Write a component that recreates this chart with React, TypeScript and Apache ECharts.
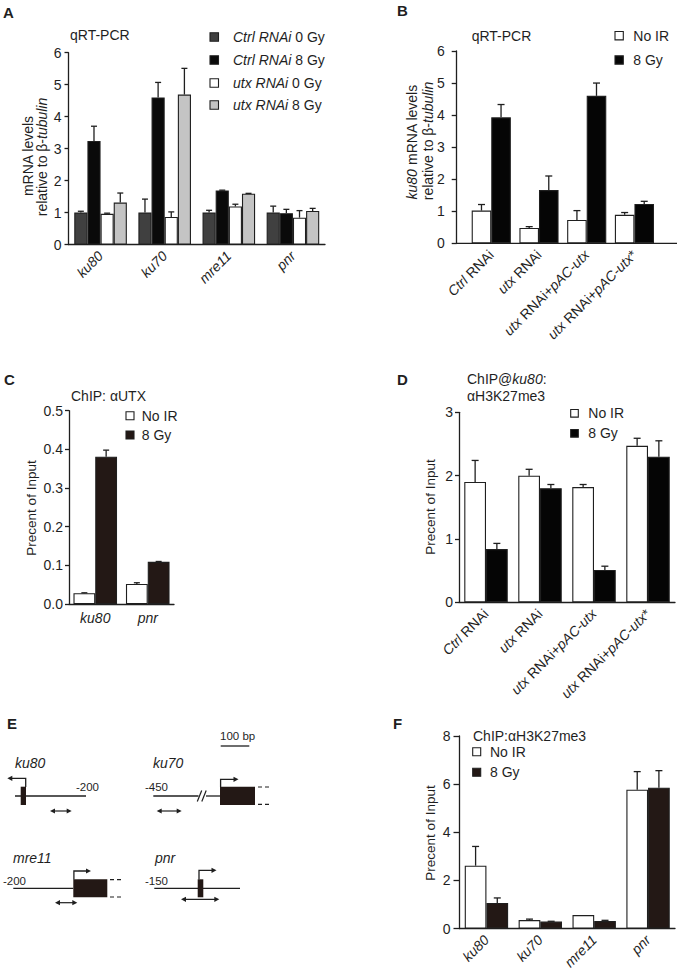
import React, { useEffect, useRef } from 'react';
import * as echarts from 'echarts';

const FONT = '"Liberation Sans", Arial, Helvetica, sans-serif';
const INK = '#1f1f1f';
const BROWN = '#231815';

// ---------- Panel A : qRT-PCR ----------
const aCategories = ['ku80', 'ku70', 'mre11', 'pnr'];
const aNames = ['Ctrl RNAi 0 Gy', 'Ctrl RNAi 8 Gy', 'utx RNAi 0 Gy', 'utx RNAi 8 Gy'];
const aCtrl0 = [1.0, 1.0, 1.0, 1.0];
const aCtrl0Err = [0.04, 0.42, 0.07, 0.2];
const aCtrl8 = [3.24, 4.6, 1.69, 0.98];
const aCtrl8Err = [0.46, 0.47, 0.01, 0.12];
const aUtx0 = [0.96, 0.86, 1.19, 0.84];
const aUtx0Err = [0.02, 0.16, 0.07, 0.22];
const aUtx8 = [1.31, 4.69, 1.59, 1.05];
const aUtx8Err = [0.3, 0.82, 0.01, 0.08];

// ---------- Panel B : ku80 mRNA ----------
const bCategories = ['Ctrl RNAi', 'utx RNAi', 'utx RNAi+pAC-utx', 'utx RNAi+pAC-utx*'];
const bNames = ['No IR', '8 Gy'];
const bNoIR = [1.02, 0.48, 0.73, 0.89];
const bNoIRErr = [0.19, 0.04, 0.29, 0.07];
const b8Gy = [3.93, 1.66, 4.6, 1.23];
const b8GyErr = [0.4, 0.44, 0.4, 0.08];

// ---------- Panel C : ChIP aUTX ----------
const cCategories = ['ku80', 'pnr'];
const cNoIR = [0.028, 0.052];
const cNoIRErr = [0.001, 0.003];
const c8Gy = [0.381, 0.109];
const c8GyErr = [0.017, 0.001];

// ---------- Panel D : ChIP@ku80 H3K27me3 ----------
const dCategories = ['Ctrl RNAi', 'utx RNAi', 'utx RNAi+pAC-utx', 'utx RNAi+pAC-utx*'];
const dNoIR = [1.9, 2.0, 1.82, 2.47];
const dNoIRErr = [0.34, 0.1, 0.04, 0.12];
const d8Gy = [0.84, 1.8, 0.51, 2.3];
const d8GyErr = [0.09, 0.06, 0.06, 0.25];

// ---------- Panel F : ChIP H3K27me3 ----------
const fCategories = ['ku80', 'ku70', 'mre11', 'pnr'];
const fNoIR = [2.61, 0.35, 0.56, 5.77];
const fNoIRErr = [0.8, 0.04, 0, 0.75];
const f8Gy = [1.06, 0.29, 0.31, 5.85];
const f8GyErr = [0.21, 0.01, 0.03, 0.71];

type S = { name: string; values: number[]; errors: number[]; fill: string };
type P = {
  box: { left: number; top: number; right: number; bottom: number };
  axisX?: number;
  axisEnd?: number;
  categories: string[];
  series: S[];
  yMax: number;
  yInterval: number;
  yDecimals: number;
  gap: number;
  cap: number;
  tickLen: number;
  labelMargin: number;
  rotate: number;
  italicAll: boolean;
  xLabelMargin: number;
};

const italicize = (v: string) => v.replace(/(pAC-utx|Ctrl|utx)/g, '{i|$1}');

const panels: P[] = [
  {
    box: { left: 68.5, top: 52.7, right: 325, bottom: 244.5 },
    categories: aCategories,
    series: [
      { name: aNames[0], values: aCtrl0, errors: aCtrl0Err, fill: '#404040' },
      { name: aNames[1], values: aCtrl8, errors: aCtrl8Err, fill: '#0a0a0a' },
      { name: aNames[2], values: aUtx0, errors: aUtx0Err, fill: '#ffffff' },
      { name: aNames[3], values: aUtx8, errors: aUtx8Err, fill: '#c4c4c4' },
    ],
    yMax: 6, yInterval: 1, yDecimals: 0, gap: 0.18, cap: 6, tickLen: 4, labelMargin: 7,
    rotate: 45, italicAll: true, xLabelMargin: 9,
  },
  {
    box: { left: 467.4, top: 51, right: 658.3, bottom: 243.3 },
    axisX: 456.7, axisEnd: 677,
    categories: bCategories,
    series: [
      { name: bNames[0], values: bNoIR, errors: bNoIRErr, fill: '#ffffff' },
      { name: bNames[1], values: b8Gy, errors: b8GyErr, fill: '#050505' },
    ],
    yMax: 6, yInterval: 1, yDecimals: 0, gap: 0.18, cap: 7, tickLen: 5, labelMargin: 12,
    rotate: 45, italicAll: false, xLabelMargin: 9,
  },
  {
    box: { left: 69, top: 410.7, right: 174, bottom: 604 },
    categories: cCategories,
    series: [
      { name: bNames[0], values: cNoIR, errors: cNoIRErr, fill: '#ffffff' },
      { name: bNames[1], values: c8Gy, errors: c8GyErr, fill: BROWN },
    ],
    yMax: 0.5, yInterval: 0.1, yDecimals: 1, gap: 0.17, cap: 6, tickLen: 4, labelMargin: 6,
    rotate: 0, italicAll: true, xLabelMargin: 7,
  },
  {
    box: { left: 459, top: 412.3, right: 675, bottom: 602.3 },
    categories: dCategories,
    series: [
      { name: bNames[0], values: dNoIR, errors: dNoIRErr, fill: '#ffffff' },
      { name: bNames[1], values: d8Gy, errors: d8GyErr, fill: '#050505' },
    ],
    yMax: 3, yInterval: 1, yDecimals: 0, gap: 0.195, cap: 7, tickLen: 4, labelMargin: 6,
    rotate: 45, italicAll: false, xLabelMargin: 9,
  },
  {
    box: { left: 459.5, top: 736, right: 675, bottom: 928.5 },
    categories: fCategories,
    series: [
      { name: bNames[0], values: fNoIR, errors: fNoIRErr, fill: '#ffffff' },
      { name: bNames[1], values: f8Gy, errors: f8GyErr, fill: BROWN },
    ],
    yMax: 8, yInterval: 2, yDecimals: 0, gap: 0.195, cap: 7, tickLen: 6, labelMargin: 9,
    rotate: 45, italicAll: true, xLabelMargin: 9,
  },
];

const rich = (size: number) => ({
  i: { fontStyle: 'italic', fontSize: size, fontFamily: FONT, fill: INK, color: INK },
});

function T(x: number, y: number, text: string, o: any = {}) {
  const size = o.size || 14;
  return {
    type: 'text',
    x,
    y,
    rotation: o.rot || 0,
    silent: true,
    style: {
      text,
      fill: INK,
      fontSize: size,
      fontFamily: FONT,
      fontStyle: o.italic ? 'italic' : 'normal',
      fontWeight: o.bold ? 'bold' : 'normal',
      align: o.align || 'left',
      verticalAlign: 'middle',
      rich: rich(size),
    },
  };
}

function L(x1: number, y1: number, x2: number, y2: number, w = 1.3, dash?: number[]) {
  return { type: 'line', silent: true, shape: { x1, y1, x2, y2 }, style: { stroke: INK, lineWidth: w, lineDash: dash } };
}
function R(x: number, y: number, w: number, h: number) {
  return { type: 'rect', silent: true, shape: { x, y, width: w, height: h }, style: { fill: BROWN } };
}
function head(x: number, y: number, dir: number) {
  return {
    type: 'polygon',
    silent: true,
    shape: { points: [[x, y], [x - dir * 5, y - 2.6], [x - dir * 5, y + 2.6]] },
    style: { fill: INK },
  };
}
function dbl(x1: number, x2: number, y: number) {
  return [L(x1 + 2, y, x2 - 2, y, 1.2), head(x1, y, -1), head(x2, y, 1)];
}

function legend(x: number, size: number, textX: number, ys: number[], series: S[], fmt: (s: string) => string) {
  const out: any[] = [];
  series.forEach((s, i) => {
    out.push({
      type: 'rect',
      silent: true,
      shape: { x, y: ys[i] - size / 2, width: size, height: size },
      style: { fill: s.fill, stroke: INK, lineWidth: 1.1 },
    });
    out.push(T(textX, ys[i], fmt(s.name)));
  });
  return out;
}

function buildOption() {
  const grid: any[] = [];
  const xAxis: any[] = [];
  const yAxis: any[] = [];
  const series: any[] = [];
  const graphic: any[] = [];

  panels.forEach((p, k) => {
    const customX = p.axisX !== undefined;
    grid.push({
      left: p.box.left,
      top: p.box.top,
      width: p.box.right - p.box.left,
      height: p.box.bottom - p.box.top,
      containLabel: false,
    });
    xAxis.push({
      type: 'category',
      gridIndex: k,
      data: p.categories,
      axisLine: { show: !customX, lineStyle: { color: INK, width: 1.3 } },
      axisTick: { show: false },
      axisLabel: {
        interval: 0,
        rotate: p.rotate,
        margin: p.xLabelMargin,
        color: INK,
        fontSize: 14,
        fontFamily: FONT,
        fontStyle: p.italicAll ? 'italic' : 'normal',
        formatter: (v: string) => (p.italicAll ? v : italicize(v)),
        rich: { i: { fontStyle: 'italic', fontSize: 14, fontFamily: FONT, color: INK } },
      },
    });
    yAxis.push({
      type: 'value',
      gridIndex: k,
      min: 0,
      max: p.yMax,
      interval: p.yInterval,
      offset: customX ? p.box.left - (p.axisX as number) : 0,
      axisLine: { show: true, lineStyle: { color: INK, width: 1.3 } },
      axisTick: { show: true, length: p.tickLen, lineStyle: { color: INK, width: 1.3 } },
      axisLabel: {
        margin: p.labelMargin,
        color: INK,
        fontSize: 14,
        fontFamily: FONT,
        formatter: (v: number) => v.toFixed(p.yDecimals),
      },
      splitLine: { show: false },
    });
    const n = p.series.length;
    p.series.forEach((s, i) => {
      series.push({
        type: 'bar',
        name: s.name,
        xAxisIndex: k,
        yAxisIndex: k,
        data: s.values,
        barGap: '0%',
        barCategoryGap: `${p.gap * 100}%`,
        silent: true,
        itemStyle: { color: s.fill, borderColor: INK, borderWidth: 1.1 },
      });
      series.push({
        type: 'custom',
        name: s.name + ' err',
        xAxisIndex: k,
        yAxisIndex: k,
        silent: true,
        z: 5,
        clip: false,
        encode: { x: 0, y: 1 },
        data: s.values.map((v, c) => [c, v, s.errors[c]]),
        renderItem: (params: any, api: any) => {
          const c = api.value(0);
          const v = api.value(1);
          const e = api.value(2);
          if (!e) return null;
          const p0 = api.coord([c, v]);
          const p1 = api.coord([c, v + e]);
          const band = api.size([1, 0])[0];
          const inner = band * (1 - p.gap);
          const bw = inner / n;
          const x = p0[0] - inner / 2 + bw * (i + 0.5);
          return {
            type: 'group',
            children: [
              { type: 'line', shape: { x1: x, y1: p0[1], x2: x, y2: p1[1] }, style: { stroke: INK, lineWidth: 1.3 } },
              {
                type: 'line',
                shape: { x1: x - p.cap / 2, y1: p1[1], x2: x + p.cap / 2, y2: p1[1] },
                style: { stroke: INK, lineWidth: 1.3 },
              },
            ],
          };
        },
      });
    });
    if (customX) {
      graphic.push(L(p.axisX as number, p.box.bottom, p.axisEnd as number, p.box.bottom, 1.3));
    }
  });

  const V = Math.PI / 2;
  // panel letters
  graphic.push(T(3, 12, 'A', { bold: true, size: 15 }));
  graphic.push(T(397, 10, 'B', { bold: true, size: 15 }));
  graphic.push(T(4, 379, 'C', { bold: true, size: 15 }));
  graphic.push(T(397, 379, 'D', { bold: true, size: 15 }));
  graphic.push(T(7, 723, 'E', { bold: true, size: 15 }));
  graphic.push(T(393, 723, 'F', { bold: true, size: 15 }));

  // titles
  graphic.push(T(70, 35, 'qRT-PCR'));
  graphic.push(T(471.7, 35.7, 'qRT-PCR'));
  graphic.push(T(71, 395.7, 'ChIP: αUTX'));
  graphic.push(T(467, 379, 'ChIP@{i|ku80}:'));
  graphic.push(T(467, 395.7, 'αH3K27me3'));
  graphic.push(T(473, 736, 'ChIP:αH3K27me3'));

  // y axis names
  graphic.push(T(28, 156, 'mRNA levels', { rot: V, align: 'center' }));
  graphic.push(T(42, 157, 'relative to β-{i|tubulin}', { rot: V, align: 'center' }));
  graphic.push(T(411.7, 142, '{i|ku80} mRNA levels', { rot: V, align: 'center' }));
  graphic.push(T(428, 141, 'relative to β-{i|tubulin}', { rot: V, align: 'center' }));
  graphic.push(T(31.7, 508, 'Precent of Input', { rot: V, align: 'center', size: 13.5 }));
  graphic.push(T(430, 507, 'Precent of Input', { rot: V, align: 'center', size: 13.5 }));
  graphic.push(T(430, 833, 'Precent of Input', { rot: V, align: 'center', size: 13.5 }));

  // legends
  const aFmt = (s: string) => s.replace(/^(\S+ RNAi)/, '{i|$1}');
  const plain = (s: string) => s;
  graphic.push(...legend(210, 8.5, 233, [37, 60, 83, 105], panels[0].series, aFmt));
  graphic.push(...legend(615, 8.3, 633.3, [35.7, 60], panels[1].series, plain));
  graphic.push(...legend(126, 8, 141.7, [415.7, 435], panels[2].series, plain));
  graphic.push(...legend(570.7, 7.6, 588.3, [413.3, 433.3], panels[3].series, plain));
  graphic.push(...legend(472.7, 8, 490, [751.7, 772.3], panels[4].series, plain));

  // ---------- Panel E : promoter schematics ----------
  graphic.push(T(220, 736, '100 bp', { size: 11.5 }));
  graphic.push(L(220.7, 746, 249.3, 746, 1.3));

  // ku80
  graphic.push(T(15, 763, 'ku80', { italic: true }));
  graphic.push(L(15, 796, 86, 796));
  graphic.push(R(20.7, 786.7, 5.3, 18.3));
  graphic.push({
    type: 'polyline',
    silent: true,
    shape: { points: [[25.7, 787], [25.7, 778.3], [11, 778.3]] },
    style: { stroke: INK, lineWidth: 1.3, fill: 'none' },
  });
  graphic.push(head(7.3, 778.3, -1));
  graphic.push(T(76, 787, '-200', { size: 11.5 }));
  graphic.push(...dbl(50, 71.7, 811));

  // ku70
  graphic.push(T(153, 763, 'ku70', { italic: true }));
  graphic.push(L(153.3, 796, 198.5, 796));
  graphic.push(L(206, 796, 220, 796));
  graphic.push(L(197.3, 801.5, 201.7, 790.5, 1.2));
  graphic.push(L(201.8, 801.5, 206.2, 790.5, 1.2));
  graphic.push(R(220, 786.7, 35, 18.3));
  graphic.push(L(258, 787, 269, 787, 1.2, [4, 3]));
  graphic.push(L(258, 804.3, 269, 804.3, 1.2, [4, 3]));
  graphic.push({
    type: 'polyline',
    silent: true,
    shape: { points: [[220.6, 787], [220.6, 779.3], [235, 779.3]] },
    style: { stroke: INK, lineWidth: 1.3, fill: 'none' },
  });
  graphic.push(head(238.5, 779.3, 1));
  graphic.push(T(145, 787, '-450', { size: 11.5 }));
  graphic.push(...dbl(156.7, 181.7, 811));

  // mre11
  graphic.push(T(13, 857.7, 'mre11', { italic: true }));
  graphic.push(L(13.3, 888.3, 73.3, 888.3));
  graphic.push(R(73.3, 879.3, 34, 18));
  graphic.push(L(110, 879.6, 121, 879.6, 1.2, [4, 3]));
  graphic.push(L(110, 897, 121, 897, 1.2, [4, 3]));
  graphic.push({
    type: 'polyline',
    silent: true,
    shape: { points: [[73.9, 879.5], [73.9, 871], [88, 871]] },
    style: { stroke: INK, lineWidth: 1.3, fill: 'none' },
  });
  graphic.push(head(91, 871, 1));
  graphic.push(T(3, 880.7, '-200', { size: 11.5 }));
  graphic.push(...dbl(55, 77.3, 902.7));

  // pnr
  graphic.push(T(155, 857.7, 'pnr', { italic: true }));
  graphic.push(L(154.3, 888.3, 240, 888.3));
  graphic.push(R(197.7, 879.3, 5.6, 18));
  graphic.push({
    type: 'polyline',
    silent: true,
    shape: { points: [[199, 879.5], [199, 870.3], [213, 870.3]] },
    style: { stroke: INK, lineWidth: 1.3, fill: 'none' },
  });
  graphic.push(head(216.5, 870.3, 1));
  graphic.push(T(145, 880.7, '-150', { size: 11.5 }));
  graphic.push(...dbl(181, 219.3, 899.3));

  return {
    animation: false,
    backgroundColor: '#ffffff',
    textStyle: { fontFamily: FONT, color: INK },
    grid,
    xAxis,
    yAxis,
    series,
    graphic: { elements: graphic },
  };
}

export default function App() {
  const ref = useRef<HTMLDivElement>(null);
  useEffect(() => {
    if (!ref.current) return;
    const chart = echarts.init(ref.current, undefined, { renderer: 'svg' });
    chart.setOption(buildOption() as any);
    return () => chart.dispose();
  }, []);
  return (
    <div
      ref={ref}
      style={{ position: 'absolute', left: 0, top: 0, width: 679, height: 975, background: '#fff' }}
    />
  );
}
